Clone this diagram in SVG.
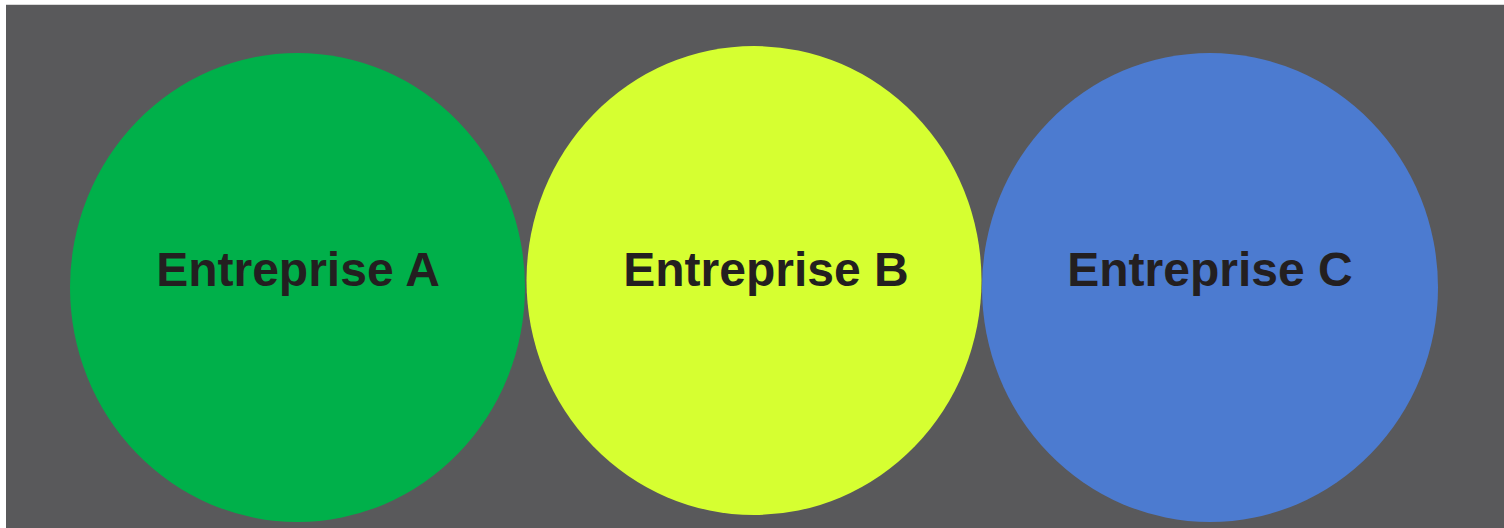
<svg xmlns="http://www.w3.org/2000/svg" width="1504" height="528" viewBox="0 0 1504 528">
  <style>
    .label { font-family: "Liberation Sans", Arial, Helvetica, sans-serif; font-size: 48px; font-weight: bold; fill: #231F20; text-anchor: middle; }
  </style>
  <!-- page and dark panel -->
  <rect x="0" y="0" width="1504" height="528" fill="#FFFFFF"/>
  <rect x="6" y="4" width="1498" height="1" fill="#D9D9D9"/>
  <rect x="6" y="5" width="1498" height="523" fill="#59595B"/>

  <g id="entreprise-a">
    <ellipse cx="297.5" cy="287.5" rx="227.5" ry="234.5" fill="#00B04A"/>
    <text class="label" x="298" y="286">Entreprise A</text>
  </g>
  <g id="entreprise-b">
    <ellipse cx="754" cy="280.5" rx="227.5" ry="234.5" fill="#D6FF31"/>
    <text class="label" x="766" y="286">Entreprise B</text>
  </g>
  <g id="entreprise-c">
    <ellipse cx="1210" cy="287.5" rx="228" ry="234.5" fill="#4C7BD0"/>
    <text class="label" x="1210" y="286">Entreprise C</text>
  </g>
  <g id="connectors"/>
</svg>
